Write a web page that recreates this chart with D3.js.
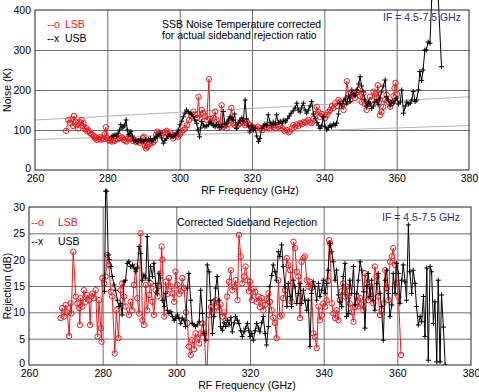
<!DOCTYPE html>
<html>
<head>
<meta charset="utf-8">
<script src="https://cdn.jsdelivr.net/npm/d3@7/dist/d3.min.js"></script>
<style>
body { margin: 0; background: #fff; }
text { font-family: "Liberation Sans", Arial, sans-serif; font-size: 10px; }
</style>
</head>
<body>
<script>
// ---- data ----
var freqTicks = [260, 280, 300, 320, 340, 360, 380];
var noiseTicks = [0, 100, 200, 300, 400];
var rejTicks = [0, 5, 10, 15, 20, 25, 30];

// reference lines in the noise panel (endpoints)
var specFreq = [260, 380];
var specHigh = [125, 183];
var specLow = [76, 111];

// SSB noise temperature, LSB
var noiseLsbF = [268.6,269.2,269.7,270.1,270.5,270.8,271.2,271.5,271.9,272.3,272.6,272.9,273.2,273.4,273.8,274.1,274.5,274.8,275.2,275.6,
  275.9,276.3,276.6,276.9,277.2,277.6,277.9,278.3,278.6,278.9,279.3,279.6,279.9,280.3,280.6,280.9,281.2,281.6,282.1,282.5,
  283.0,283.5,284.0,284.3,284.6,285.0,285.3,285.8,286.2,286.7,287.1,287.6,288.0,288.5,289.0,289.4,289.8,290.1,290.4,290.7,
  291.0,291.3,291.7,292.2,292.7,293.2,293.5,293.8,294.1,294.5,295.0,295.5,296.0,296.4,296.8,297.3,297.8,298.2,298.7,299.1,
  299.6,300.1,300.6,301.1,301.5,302.0,302.6,303.2,303.8,304.3,304.8,305.2,305.6,306.1,306.5,307.0,307.5,308.1,308.4,308.8,
  309.3,309.8,310.2,310.7,311.1,311.6,312.1,312.5,313.0,313.5,313.9,314.3,314.8,315.2,315.7,316.2,316.7,317.2,317.6,318.1,
  318.5,319.0,319.4,320.0,320.4,321.0,321.6,322.2,322.8,323.4,324.1,324.7,325.3,325.9,326.5,327.2,327.8,328.4,329.0,329.6,
  330.1,330.5,331.0,331.4,331.9,332.4,332.8,333.3,333.8,334.3,334.7,335.1,335.6,336.1,336.5,337.0,337.5,337.9,338.4,338.8,
  339.3,339.8,340.2,340.7,341.1,341.6,342.1,342.5,343.0,343.5,343.9,344.3,344.8,345.3,345.8,346.2,346.7,347.1,347.6,348.0,
  348.5,349.0,349.4,349.9,350.3,350.8,351.2,351.7,352.2,352.6,353.1,353.6,354.1,354.5,354.8,355.1,355.4,355.8,356.3,356.8,
  357.2,357.7,358.2,358.6,359.1,359.4,359.7,360.1];
var noiseLsbT = [98,125,118,127,110,135,120,112,104,121,118,125,110,117,102,105,96,99,93,90,
  88,84,79,81,75,78,82,76,80,77,90,107,80,75,73,76,71,74,73,78,
  77,80,82,79,75,73,71,79,77,79,73,75,70,71,68,73,80,83,60,54,
  58,63,66,67,70,75,88,96,90,93,88,92,95,98,90,93,86,79,88,85,
  83,90,96,100,104,112,125,135,146,138,130,183,129,150,142,135,125,227,128,121,
  130,146,125,115,108,162,108,112,104,115,125,155,117,112,108,113,117,122,117,112,
  121,115,112,108,106,104,108,104,100,106,107,104,110,108,105,108,110,104,98,100,
  94,96,104,112,108,114,110,117,115,120,118,121,125,119,117,128,140,158,145,133,
  140,136,130,137,145,150,160,155,167,160,175,171,160,150,170,222,190,175,185,192,
  180,195,200,185,170,192,165,150,165,183,175,196,190,183,212,170,137,145,158,175,
  188,170,158,167,185,205,218,190];

// SSB noise temperature, USB
var noiseUsbF = [281.2,281.6,282.1,282.5,283.0,283.4,283.7,284.1,284.4,284.8,285.2,285.5,285.8,286.2,286.5,286.9,287.3,287.8,288.2,288.6,
  289.1,289.5,290.0,290.5,291.0,291.4,291.9,292.3,292.8,293.2,293.7,294.1,294.6,295.0,295.5,295.9,296.4,296.8,297.3,297.7,
  298.2,298.7,299.2,299.6,300.1,300.6,301.0,301.5,301.9,302.4,302.9,303.3,303.8,304.2,304.7,305.1,305.5,305.8,306.1,306.6,
  307.0,307.5,308.0,308.4,308.9,309.3,309.8,310.2,310.7,311.1,311.6,312.1,312.5,313.0,313.5,313.9,314.4,314.8,315.2,315.7,
  316.2,316.7,317.2,317.6,318.1,318.5,319.0,319.4,320.0,320.4,320.9,321.3,321.8,322.2,322.7,323.2,323.6,324.1,324.5,325.0,
  325.5,325.9,326.4,326.8,327.3,327.8,328.3,328.8,329.3,329.8,330.3,330.8,331.4,331.9,332.4,332.8,333.3,333.7,334.2,334.7,
  335.1,335.6,336.1,336.5,337.0,337.5,338.0,338.4,338.8,339.3,339.7,340.2,340.7,341.1,341.6,342.0,342.5,343.0,343.4,343.9,
  344.3,344.8,345.3,345.8,346.2,346.7,347.1,347.6,348.1,348.5,349.0,349.5,349.9,350.3,350.8,351.3,351.7,352.2,352.6,353.1,
  353.6,354.0,354.5,354.9,355.4,355.8,356.3,356.8,357.2,357.7,358.2,358.6,359.1,359.6,360.1,360.5,361.0,361.4,361.9,362.4,
  362.8,363.3,363.7,364.2,364.6,365.1,365.5,366.0,366.4,366.9,367.3,367.8,368.2,368.7,369.2,369.7,370.2,371.4,372.4];
var noiseUsbT = [83,86,88,85,92,100,113,105,108,112,125,100,88,92,96,85,75,73,71,74,
  75,72,71,76,73,77,79,72,75,80,83,88,92,80,67,74,79,85,88,84,
  83,87,92,100,113,122,133,142,150,145,142,138,133,125,117,100,83,105,121,112,
  108,110,113,120,117,111,108,114,113,106,108,146,115,117,125,133,130,125,140,104,
  118,125,130,122,175,128,110,95,110,100,104,85,71,79,104,110,115,112,138,118,
  112,120,115,138,118,122,117,125,120,128,135,142,148,155,167,150,145,155,167,150,
  142,150,160,171,140,128,118,112,104,110,133,108,100,106,112,108,115,112,117,140,
  167,160,172,180,165,185,171,200,190,185,200,215,233,210,195,175,160,170,165,154,
  160,170,175,163,180,195,210,225,183,175,160,170,167,175,180,165,170,200,142,160,
  170,165,167,175,196,171,175,200,246,224,250,300,300,320,317,430,470,450,258];

// sideband rejection, LSB
var rejLsbF = [268.6,269.0,269.5,270.0,270.4,270.9,271.3,271.5,272.0,272.7,273.1,273.6,273.8,274.0,274.5,274.9,275.4,275.8,276.3,276.6,
  276.9,277.2,277.6,278.1,278.6,279.0,279.5,279.7,279.9,280.4,280.8,281.3,281.7,282.2,282.6,283.3,283.7,284.3,284.9,285.3,
  285.8,286.2,287.1,287.6,288.0,288.5,289.0,289.4,289.9,290.3,290.8,291.2,291.7,292.1,292.6,293.0,293.5,293.9,294.4,294.9,
  295.3,295.7,296.0,296.2,296.7,297.1,297.6,298.0,298.5,298.9,299.4,299.8,300.3,300.8,301.2,301.6,302.1,302.6,303.0,303.4,
  303.9,304.3,304.8,305.2,305.7,306.2,306.6,307.1,307.6,308.2,308.9,309.4,309.8,310.2,310.7,311.1,311.6,312.0,312.5,313.0,
  313.4,313.8,314.3,314.8,315.2,315.7,316.1,316.6,317.0,317.5,317.9,318.4,318.8,319.3,319.7,320.0,320.5,321.0,321.4,321.8,
  322.3,322.7,323.2,323.6,324.1,324.5,325.0,325.4,325.9,326.3,326.8,327.2,327.7,328.1,328.6,329.0,329.5,330.0,330.4,330.9,
  331.3,331.8,332.2,332.7,333.1,333.6,334.0,334.5,334.9,335.4,335.8,336.3,336.7,337.2,337.6,338.1,338.6,339.0,339.5,339.9,
  340.4,340.8,341.2,341.5,341.7,342.2,342.6,343.1,343.5,344.0,344.4,344.9,345.3,345.8,346.2,346.7,347.1,347.6,348.1,348.5,
  349.0,349.4,349.9,350.3,350.8,351.2,351.7,352.1,352.6,353.0,353.5,353.9,354.4,354.8,355.3,355.7,356.2,356.7,357.1,357.6,
  358.0,358.5,358.9,359.4,359.8,360.3,361.0];
var rejLsbR = [8.9,10.8,9.2,11.4,10.0,5.5,11.7,9.8,21.5,13.0,11.7,10.8,7.6,12.7,11.1,14.2,12.0,13.3,12.3,7.6,
  13.0,13.6,12.7,14.2,5.4,12.3,7.0,4.4,16.5,15.5,16.8,20.9,19.0,13.9,13.0,2.2,10.4,5.1,14.2,15.5,
  13.0,11.1,9.5,12.0,10.4,15.2,18.7,12.7,9.8,25.0,8.5,7.6,15.2,10.4,13.3,15.5,12.0,9.5,14.2,13.0,
  15.0,17.4,22.5,20.0,9.2,15.8,13.5,16.5,14.9,13.6,12.0,17.7,15.2,13.5,14.0,16.5,14.6,10.0,8.0,3.5,
  1.9,4.7,3.0,6.0,5.0,4.1,6.0,7.9,6.0,-3.0,9.5,11.0,10.0,12.0,12.3,11.0,10.4,11.5,9.2,10.0,
  8.5,13.0,15.8,18.0,14.2,14.9,16.1,12.3,24.7,20.6,15.5,16.8,18.7,16.1,14.0,15.8,12.3,14.5,13.9,12.0,
  13.0,11.0,12.7,10.4,11.4,12.5,13.6,12.0,10.4,9.0,8.0,5.1,16.1,9.2,9.5,12.7,14.2,20.3,19.0,18.0,
  12.0,23.4,22.2,17.7,16.8,8.9,19.6,20.3,20.6,16.1,14.9,15.8,14.6,6.0,5.4,3.2,11.1,8.5,9.5,11.7,
  11.1,12.3,16.0,23.7,23.1,11.7,9.8,8.9,10.4,8.5,12.3,14.0,15.5,13.0,14.9,13.0,11.7,10.0,8.2,11.0,
  13.0,11.1,12.7,11.5,10.4,17.4,15.5,12.3,14.9,13.0,11.7,18.7,16.8,13.0,9.5,10.4,11.7,18.0,14.6,12.3,
  19.6,20.6,22.2,19.0,15.5,13.0,1.9];

// sideband rejection, USB
var rejUsbF = [280.5,280.8,281.1,281.5,281.8,282.2,282.6,283.1,283.5,284.0,284.4,284.9,285.3,285.8,286.2,286.7,287.1,287.6,288.1,288.5,
  289.0,289.4,289.9,290.3,290.8,291.2,291.7,292.1,292.6,293.0,293.5,293.9,294.4,294.8,295.3,295.7,296.2,296.7,297.1,297.6,
  298.0,298.5,298.9,299.4,299.8,300.3,300.7,301.2,301.6,302.1,302.5,303.0,303.4,303.9,304.3,304.8,305.2,305.7,306.2,306.6,
  307.1,307.5,308.0,308.4,308.9,309.3,309.8,310.2,310.7,311.1,311.6,312.0,312.5,313.0,313.4,313.9,314.3,314.8,315.2,315.7,
  316.1,316.6,317.0,317.5,317.9,318.4,318.8,319.3,319.7,320.0,320.5,320.9,321.4,321.8,322.3,322.7,323.2,323.6,324.1,324.5,
  325.0,325.4,325.9,326.3,326.8,327.2,327.7,328.1,328.6,329.0,329.5,330.0,330.4,330.9,331.3,331.8,332.2,332.7,333.1,333.6,
  334.0,334.5,334.9,335.4,335.8,336.3,336.7,337.2,337.6,338.1,338.6,339.0,339.5,339.9,340.4,340.8,341.2,341.7,342.2,342.6,
  343.1,343.5,344.0,344.4,344.9,345.3,345.8,346.2,346.7,347.1,347.6,348.1,348.5,349.0,349.4,349.9,350.3,350.8,351.2,351.7,
  352.1,352.6,353.0,353.5,353.9,354.4,354.8,355.3,355.7,356.2,356.7,357.1,357.6,358.0,358.5,358.9,359.4,359.8,360.3,360.7,
  361.2,361.6,362.1,362.5,363.0,363.4,363.9,364.3,364.8,365.2,365.7,366.2,366.6,367.1,367.5,368.0,368.4,368.9,369.3,369.8,
  370.2,370.7,371.1,371.6,372.0,372.5,373.0];
var rejUsbR = [14.0,33.0,33.0,20.9,20.0,18.7,16.8,15.2,14.2,12.3,11.1,11.7,9.5,15.8,16.1,19.3,19.6,18.7,19.0,18.4,
  17.7,18.4,22.5,21.2,16.1,17.1,16.5,24.4,16.1,18.7,16.8,19.3,15.5,13.6,17.4,16.5,12.3,11.1,13.6,10.4,
  9.8,10.1,9.2,8.5,8.9,9.5,8.9,7.9,8.9,8.5,7.3,14.6,17.4,12.3,7.9,7.6,7.3,7.6,8.2,14.2,
  9.8,6.0,4.7,19.0,17.7,12.3,6.0,9.2,14.6,16.8,12.3,7.3,6.6,8.0,7.3,8.5,7.6,9.0,6.3,8.0,
  9.2,8.5,7.9,6.5,5.4,6.3,7.0,7.9,6.5,5.4,6.0,4.7,6.5,7.9,7.0,6.3,8.0,9.2,6.0,3.8,
  7.3,14.9,17.0,19.0,17.7,16.1,21.5,20.6,22.8,18.7,14.9,11.1,15.5,13.0,11.1,16.1,14.9,11.7,13.6,15.5,
  11.7,14.2,12.3,10.4,12.3,3.5,13.6,15.8,14.9,12.3,15.5,13.0,14.2,16.1,13.6,15.5,18.0,23.1,21.5,19.6,
  16.1,18.0,13.3,12.0,11.1,16.8,19.3,9.2,9.8,16.1,13.6,18.7,11.4,13.6,16.1,19.6,18.0,13.9,7.0,14.9,
  17.4,13.0,16.1,12.3,10.4,15.5,17.4,13.6,11.1,4.7,16.1,18.0,13.6,9.2,11.4,17.4,13.6,19.3,17.4,11.7,
  16.1,19.0,15.8,12.3,26.6,17.7,13.6,18.0,15.5,11.1,7.6,9.2,8.2,13.0,5.4,18.4,0.9,18.7,17.7,7.9,
  12.0,0.6,16.1,0.6,13.3,7.2,0.0];

// ---- drawing ----
var lsbColor = "#ee1c1c", usbColor = "#000", gridColor = "#6e6e6e", ifColor = "#2e2e85";

var svg = d3.select("body").append("svg")
    .attr("width", 479)
    .attr("height", 392);

function zip(a, b) { return a.map(function(d, i) { return [d, b[i]]; }); }

function panel(o) {
    var x = d3.scaleLinear().domain([260, 380]).range([o.left, o.right]);
    var y = d3.scaleLinear().domain(o.yDomain).range([o.bottom, o.top]);
    var g = svg.append("g");

    // grid
    g.append("g")
        .attr("transform", "translate(0," + o.bottom + ")")
        .call(d3.axisBottom(x).tickValues(freqTicks.slice(1, -1)).tickSize(-(o.bottom - o.top)).tickFormat(""))
        .call(function(a) { a.select(".domain").remove(); a.selectAll("line").attr("stroke", gridColor); });
    g.append("g")
        .attr("transform", "translate(" + o.left + ",0)")
        .call(d3.axisLeft(y).tickValues(o.yTicks.slice(1, -1)).tickSize(-(o.right - o.left)).tickFormat(""))
        .call(function(a) { a.select(".domain").remove(); a.selectAll("line").attr("stroke", gridColor); });

    // tick labels
    g.append("g")
        .attr("transform", "translate(0," + o.bottom + ")")
        .call(d3.axisBottom(x).tickValues(freqTicks).tickSize(0).tickPadding(5))
        .call(function(a) { a.select(".domain").remove(); a.selectAll("text").attr("fill", "#000").style("font-size", "10.5px"); });
    g.append("g")
        .attr("transform", "translate(" + o.left + ",0)")
        .call(d3.axisLeft(y).tickValues(o.yTicks).tickSize(0).tickPadding(4))
        .call(function(a) {
            a.select(".domain").remove();
            a.selectAll("text").attr("fill", "#000").style("font-size", "10.5px")
                .attr("dy", function(d) { return d === 0 ? "0.1em" : "0.32em"; });
        });

    // reference lines
    if (o.spec) {
        o.spec.forEach(function(s) {
            g.append("path")
                .datum(zip(specFreq, s))
                .attr("fill", "none")
                .attr("stroke", "#b4b4b4")
                .attr("stroke-width", 1)
                .attr("d", d3.line().x(function(d) { return x(d[0]); }).y(function(d) { return y(d[1]); }));
        });
    }

    var clipId = "clip" + o.top;
    svg.append("clipPath").attr("id", clipId)
        .append("rect").attr("x", 0).attr("y", o.clipTop).attr("width", 479).attr("height", o.bottom - o.clipTop);
    var plot = g.append("g").attr("clip-path", "url(#" + clipId + ")");
    var line = d3.line().x(function(d) { return x(d[0]); }).y(function(d) { return y(d[1]); });

    o.series.forEach(function(s) {
        var pts = zip(s.f, s.v);
        plot.append("path")
            .datum(pts)
            .attr("fill", "none")
            .attr("stroke", s.color)
            .attr("stroke-width", 1)
            .attr("d", line);
        if (s.marker === "o") {
            plot.selectAll(null).data(pts).enter().append("circle")
                .attr("cx", function(d) { return x(d[0]); })
                .attr("cy", function(d) { return y(d[1]); })
                .attr("r", 2.7)
                .attr("fill", "none")
                .attr("stroke", s.color)
                .attr("stroke-width", 1);
        } else {
            plot.selectAll(null).data(pts).enter().append("path")
                .attr("d", function(d) {
                    var cx = x(d[0]), cy = y(d[1]);
                    return "M" + (cx - 2.5) + "," + cy + "H" + (cx + 2.5) + "M" + cx + "," + (cy - 2.5) + "V" + (cy + 2.5);
                })
                .attr("stroke", s.color)
                .attr("stroke-width", 1);
        }
    });

    // box
    g.append("rect")
        .attr("x", o.left).attr("y", o.top)
        .attr("width", o.right - o.left).attr("height", o.bottom - o.top)
        .attr("fill", "none").attr("stroke", "#222").attr("stroke-width", 1);

    // axis titles
    g.append("text")
        .attr("x", o.xLabelX).attr("y", o.xLabelY)
        .attr("text-anchor", "middle")
        .style("font-size", "10.5px")
        .text("RF Frequency (GHz)");
    g.append("text")
        .attr("transform", "translate(11," + ((o.top + o.bottom) / 2) + ") rotate(-90)")
        .attr("text-anchor", "middle")
        .style("font-size", "10.5px")
        .text(o.yLabel);

    // legend
    var lg = g.append("g").attr("transform", "translate(" + o.legend[0] + "," + o.legend[1] + ")");
    lg.append("text").attr("x", 0).attr("y", 0).attr("fill", lsbColor).style("font-size", "10.5px").text("--o");
    lg.append("text").attr("x", o.legendGap).attr("y", 0).attr("fill", lsbColor).style("font-size", "10.5px").text("LSB");
    lg.append("text").attr("x", 0).attr("y", o.legendStep).attr("fill", usbColor).style("font-size", "10.5px").text("--x");
    lg.append("text").attr("x", o.legendGap).attr("y", o.legendStep).attr("fill", usbColor).style("font-size", "10.5px").text("USB");

    // notes
    o.notes.forEach(function(n) {
        g.append("text").attr("x", n[0]).attr("y", n[1]).attr("fill", n[3] || "#000")
            .style("font-size", "10.5px").text(n[2]);
    });
}

panel({
    left: 35, right: 469, top: 10, bottom: 170, clipTop: -100,
    yDomain: [0, 400], yTicks: noiseTicks, yLabel: "Noise (K)",
    xLabelX: 250, xLabelY: 194,
    spec: [specHigh, specLow],
    legend: [47, 28], legendStep: 14, legendGap: 18,
    notes: [
        [162, 28, "SSB Noise Temperature corrected"],
        [162, 39, "for actual sideband rejection ratio"],
        [383, 21, "IF = 4.5-7.5 GHz", ifColor]
    ],
    series: [
        { f: noiseLsbF, v: noiseLsbT, color: lsbColor, marker: "o" },
        { f: noiseUsbF, v: noiseUsbT, color: usbColor, marker: "x" }
    ]
});

panel({
    left: 29, right: 471, top: 207, bottom: 365, clipTop: 185,
    yDomain: [0, 30], yTicks: rejTicks, yLabel: "Rejection (dB)",
    xLabelX: 247, xLabelY: 389,
    legend: [31, 226], legendStep: 19, legendGap: 27,
    notes: [
        [177, 226, "Corrected Sideband Rejection"],
        [382, 221, "IF = 4.5-7.5 GHz", ifColor]
    ],
    series: [
        { f: rejLsbF, v: rejLsbR, color: lsbColor, marker: "o" },
        { f: rejUsbF, v: rejUsbR, color: usbColor, marker: "x" }
    ]
});
</script>
</body>
</html>
